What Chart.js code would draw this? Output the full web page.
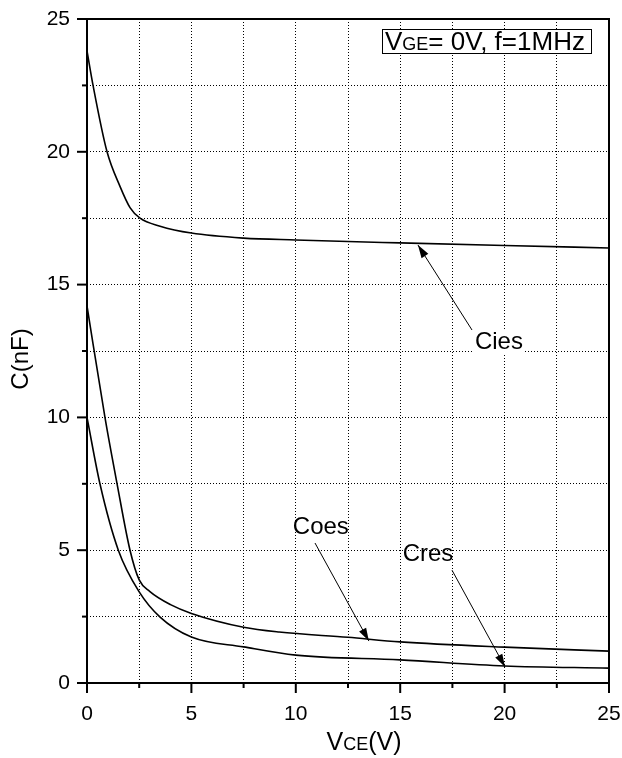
<!DOCTYPE html>
<html>
<head>
<meta charset="utf-8">
<script src="https://cdn.jsdelivr.net/npm/chart.js@4.4.1/dist/chart.umd.min.js"></script>
<style>
  body { margin: 0; background: #fff; }
  #wrap { width: 622px; height: 758px; }
</style>
</head>
<body>
<div id="wrap"><canvas id="capChart"></canvas></div>
<script>
// 데이터 (VCE 기준 커패시턴스, nF)
const ciesV = [0, 0.29, 0.96, 1.58, 2.06, 2.54, 3.5, 5, 7.5, 10, 15, 20, 25];
const ciesC = [23.8, 22.5, 20.0, 18.7, 17.9, 17.5, 17.2, 16.94, 16.75, 16.68, 16.57, 16.47, 16.38];

const coesV = [0, 0.86, 1.44, 2.06, 2.5, 3, 4, 5, 7.5, 9.2, 12.5, 15, 20, 25];
const coesC = [14.2, 10.0, 7.5, 5.0, 3.88, 3.45, 2.95, 2.62, 2.1, 1.92, 1.72, 1.55, 1.35, 1.2];

const cresV = [0, 0.62, 1.5, 2.5, 3.5, 5, 7.5, 10, 15, 20, 25];
const cresC = [10.0, 7.5, 5.0, 3.43, 2.48, 1.73, 1.36, 1.05, 0.87, 0.64, 0.56];

const xTicks = [0, 5, 10, 15, 20, 25];
const yTicks = [0, 5, 10, 15, 20, 25];

// 주석 (화살표 끝, 시작, 글자 위치) - 데이터 좌표
const notes = [
  { label: 'Cies', tip: [15.85, 16.49], from: [18.44, 13.29], text: [18.58, 12.84], align: 'left' },
  { label: 'Coes', tip: [13.5, 1.58], from: [10.92, 5.27], text: [11.2, 5.87], align: 'center' },
  { label: 'Cres', tip: [20.02, 0.6], from: [17.48, 4.25], text: [16.33, 4.86], align: 'center' }
];

const FONT = '"Liberation Sans", Arial, sans-serif';

function toPoints(xs, ys) {
  return xs.map((x, i) => ({ x: x, y: ys[i] }));
}

function lineSet(label, xs, ys) {
  return {
    label: label,
    data: toPoints(xs, ys),
    borderColor: '#000',
    borderWidth: 1.6,
    pointRadius: 0,
    fill: false,
    cubicInterpolationMode: 'monotone'
  };
}

// 틱 마크, 테두리, 축 제목, 주석 그리기
const decorPlugin = {
  id: 'decor',
  afterDraw(chart) {
    const ctx = chart.ctx;
    const a = chart.chartArea;
    const xs = chart.scales.x, ys = chart.scales.y;
    ctx.save();
    ctx.strokeStyle = '#000';
    ctx.lineWidth = 2;
    // 프레임
    ctx.strokeRect(a.left, a.top, a.right - a.left, a.bottom - a.top);
    // 틱 마크
    for (let v = 0; v <= 25; v += 2.5) {
      const len = (v % 5 === 0) ? 10 : 5;
      const px = xs.getPixelForValue(v);
      ctx.beginPath();
      ctx.moveTo(px, a.bottom);
      ctx.lineTo(px, a.bottom + len);
      ctx.stroke();
      const py = ys.getPixelForValue(v);
      ctx.beginPath();
      ctx.moveTo(a.left, py);
      ctx.lineTo(a.left - len, py);
      ctx.stroke();
    }

    // x축 제목 VCE(V)
    ctx.fillStyle = '#000';
    ctx.textBaseline = 'alphabetic';
    const parts = [['V', 25], ['CE', 18], ['(V)', 25]];
    let total = 0;
    parts.forEach(p => { ctx.font = p[1] + 'px ' + FONT; total += ctx.measureText(p[0]).width; });
    let cx = 364 - total / 2;
    parts.forEach(p => {
      ctx.font = p[1] + 'px ' + FONT;
      ctx.fillText(p[0], cx, 750);
      cx += ctx.measureText(p[0]).width;
    });

    // y축 제목
    ctx.save();
    ctx.translate(28, 359);
    ctx.rotate(-Math.PI / 2);
    ctx.font = '24px ' + FONT;
    ctx.textAlign = 'center';
    ctx.fillText('C(nF)', 0, 0);
    ctx.restore();

    // 조건 상자
    ctx.fillStyle = '#fff';
    ctx.fillRect(382, 29, 209, 24);
    ctx.lineWidth = 1;
    ctx.strokeRect(382.5, 29.5, 209, 24);
    ctx.fillStyle = '#000';
    const box = [['V', 26], ['GE', 18], ['= 0V, f=1MHz', 26]];
    let bx = 385;
    box.forEach(p => {
      ctx.font = p[1] + 'px ' + FONT;
      ctx.fillText(p[0], bx, 50);
      bx += ctx.measureText(p[0]).width;
    });

    // 주석 화살표
    ctx.lineWidth = 1;
    notes.forEach(n => {
      const tx = xs.getPixelForValue(n.tip[0]), ty = ys.getPixelForValue(n.tip[1]);
      const fx = xs.getPixelForValue(n.from[0]), fy = ys.getPixelForValue(n.from[1]);
      ctx.beginPath();
      ctx.moveTo(fx, fy);
      ctx.lineTo(tx, ty);
      ctx.stroke();
      const ang = Math.atan2(ty - fy, tx - fx);
      const hl = 13, hw = 4;
      const bxp = tx - hl * Math.cos(ang), byp = ty - hl * Math.sin(ang);
      ctx.beginPath();
      ctx.moveTo(tx, ty);
      ctx.lineTo(bxp + hw * Math.sin(ang), byp - hw * Math.cos(ang));
      ctx.lineTo(bxp - hw * Math.sin(ang), byp + hw * Math.cos(ang));
      ctx.closePath();
      ctx.fill();
      // 글자
      const lx = xs.getPixelForValue(n.text[0]), ly = ys.getPixelForValue(n.text[1]);
      ctx.font = '24px ' + FONT;
      ctx.textAlign = n.align;
      ctx.textBaseline = 'middle';
      if (n.label === 'Cies') {
        const w = ctx.measureText(n.label).width;
        ctx.fillStyle = '#fff';
        ctx.fillRect(lx - 2, ly - 13, w + 4, 26);
        ctx.fillStyle = '#000';
      }
      ctx.fillText(n.label, lx, ly);
      ctx.textAlign = 'left';
      ctx.textBaseline = 'alphabetic';
    });
    ctx.restore();
  }
};

const ctx = document.getElementById('capChart').getContext('2d');
const chartInstance = new Chart(ctx, {
  type: 'line',
  data: {
    datasets: [
      lineSet('Cies', ciesV, ciesC),
      lineSet('Coes', coesV, coesC),
      lineSet('Cres', cresV, cresC)
    ]
  },
  options: {
    responsive: true,
    maintainAspectRatio: false,
    animation: false,
    layout: { padding: { top: 19, right: 13, left: 0, bottom: 0 } },
    plugins: { legend: { display: false }, tooltip: { enabled: false } },
    scales: {
      x: {
        type: 'linear',
        min: 0,
        max: 25,
        afterFit: s => { s.height = 75; s.paddingLeft = 0; s.paddingRight = 0; },
        grid: { color: '#000', lineWidth: 1, drawTicks: false },
        border: { display: false, dash: [1, 2] },
        ticks: {
          stepSize: 2.5,
          autoSkip: false,
          padding: 19,
          maxRotation: 0,
          color: '#000',
          font: { family: FONT, size: 21 },
          callback: v => xTicks.includes(v) ? String(v) : ''
        }
      },
      y: {
        type: 'linear',
        min: 0,
        max: 25,
        afterFit: s => { s.width = 87; s.paddingTop = 0; s.paddingBottom = 0; },
        grid: { color: '#000', lineWidth: 1, drawTicks: false },
        border: { display: false, dash: [1, 2] },
        ticks: {
          stepSize: 2.5,
          autoSkip: false,
          padding: 17,
          color: '#000',
          font: { family: FONT, size: 21 },
          callback: v => yTicks.includes(v) ? String(v) : ''
        }
      }
    }
  },
  plugins: [decorPlugin]
});
</script>
</body>
</html>
